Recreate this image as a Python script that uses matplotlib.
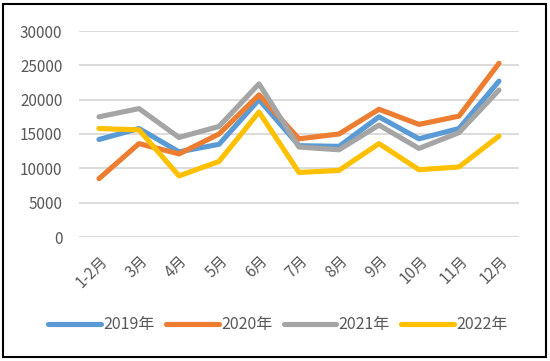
import matplotlib
matplotlib.use("Agg")
import matplotlib.pyplot as plt
from matplotlib.patches import Rectangle

plt.rcParams['font.family'] = ['Noto Sans CJK SC', 'DejaVu Sans']

months = ["1-2月", "3月", "4月", "5月", "6月", "7月", "8月", "9月", "10月", "11月", "12月"]
s2019 = [14200, 15800, 12400, 13500, 20000, 13300, 13200, 17500, 14300, 15800, 22700]
s2020 = [8500, 13600, 12100, 15000, 20700, 14300, 15000, 18600, 16400, 17600, 25300]
s2021 = [17500, 18700, 14500, 16100, 22300, 13100, 12700, 16300, 12900, 15200, 21400]
s2022 = [15800, 15600, 8900, 11000, 18200, 9400, 9700, 13600, 9800, 10200, 14700]
series = [("2019年", s2019, "#5B9BD5"), ("2020年", s2020, "#ED7D31"),
          ("2021年", s2021, "#A5A5A5"), ("2022年", s2022, "#FFC000")]
yticks = [0, 5000, 10000, 15000, 20000, 25000, 30000]

fig = plt.figure(figsize=(5.5, 3.61), dpi=100)
ax = fig.add_axes([79/550, 1-237/361, 440/550, 206/361])
x = list(range(len(months)))
for name, vals, col in series:
    ax.plot(x, vals, color=col, lw=3.7, label=name, solid_capstyle='round', solid_joinstyle='round')

ax.set_xlim(-0.5, len(months)-0.5)
ax.set_ylim(0, 30000)
ax.set_yticks(yticks)
ax.set_yticklabels([str(v) for v in yticks])
ax.set_xticks(x)
ax.set_xticklabels(months, rotation=45, ha='right', rotation_mode='anchor')
ax.tick_params(length=0, colors='#595959', labelsize=11)
ax.tick_params(axis='y', pad=12)
ax.tick_params(axis='x', pad=11)
for s in ax.spines.values():
    s.set_visible(False)
ax.grid(axis='y', color='#D9D9D9', lw=1.3)
ax.set_axisbelow(True)

leg = fig.legend(loc='center', bbox_to_anchor=(278/550, 1-325/361), ncol=4, frameon=False,
                 handlelength=3.3, columnspacing=0.7, handletextpad=0.15, fontsize=11.5)
for t in leg.get_texts():
    t.set_color('#595959')

fig.patches.append(Rectangle((3/550, 4/361), 543/550, 353/361, transform=fig.transFigure,
                             fill=False, edgecolor='black', lw=1.5))
fig.savefig("out.png", dpi=100)
